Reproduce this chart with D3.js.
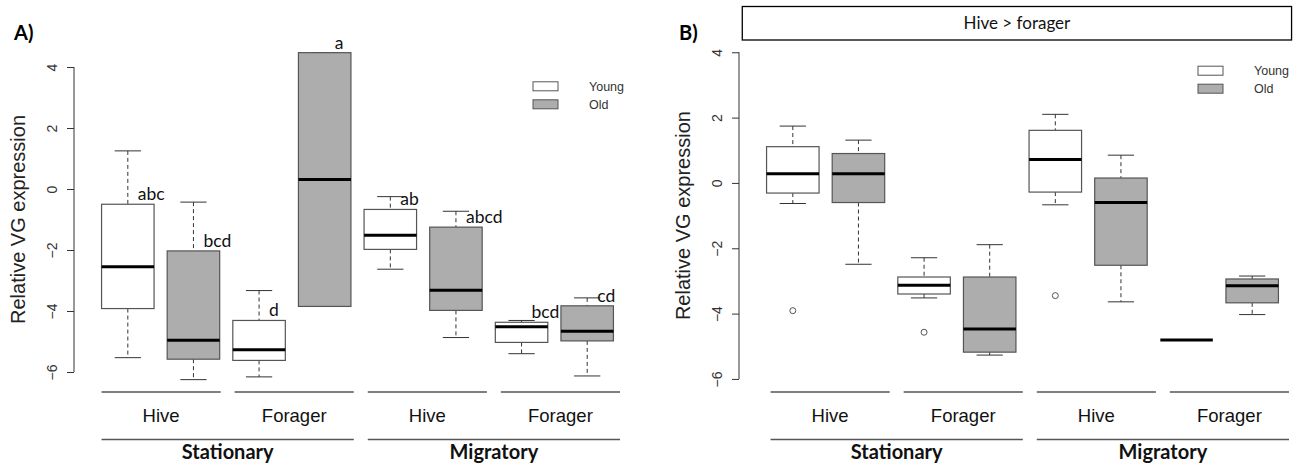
<!DOCTYPE html>
<html>
<head>
<meta charset="utf-8">
<script src="https://cdn.jsdelivr.net/npm/d3@7"></script>
<style>
  body { margin: 0; background: #fff; }
  svg { display: block; }
  .tick-label { font-family: "Liberation Sans", Arial, sans-serif; font-size: 14px; fill: #333; }
  .axis-title { font-family: "Liberation Sans", Arial, sans-serif; font-size: 20px; fill: #222; }
  .legend-text { font-family: "Liberation Sans", Arial, sans-serif; font-size: 12.5px; fill: #333; }
  .group-label { font-family: "Liberation Sans", Arial, sans-serif; font-size: 18.5px; fill: #111; }
  .cond-label { font-family: Lato, "Open Sans", sans-serif; font-size: 20px; font-weight: bold; fill: #111; }
  .letter { font-family: Lato, "Open Sans", sans-serif; font-size: 17.5px; fill: #111; }
  .panel-tag { font-family: Lato, "Open Sans", sans-serif; font-size: 20px; font-weight: bold; fill: #000; }
  .strip-text { font-family: Lato, "Open Sans", sans-serif; font-size: 17px; fill: #111; }
</style>
</head>
<body>
<svg id="chart" width="1300" height="464"></svg>
<script>
// categories
const sites = ['Hive', 'Forager', 'Hive', 'Forager'];
const conditions = ['Stationary', 'Migratory'];
const ages = ['Young', 'Old'];
const yTicks = [-6, -4, -2, 0, 2, 4];

// panel A box stats, order: St Hive Y/O, St Forager Y/O, Mig Hive Y/O, Mig Forager Y/O
const aLow = [-5.53, -6.25, -6.16, -3.85, -2.63, -4.87, -5.40, -6.13];
const aQ1 = [-3.92, -5.58, -5.62, -3.85, -1.98, -3.98, -5.03, -4.98];
const aMedian = [-2.55, -4.96, -5.27, 0.31, -1.52, -3.32, -4.52, -4.66];
const aQ3 = [-0.50, -2.03, -4.31, 4.47, -0.67, -1.25, -4.37, -3.83];
const aHigh = [1.25, -0.43, -3.33, 4.47, -0.25, -0.73, -4.31, -3.57];
const aOutliers = [[], [], [], [], [], [], [], []];
const aLetters = ['abc', 'bcd', 'd', 'a', 'ab', 'abcd', 'bcd', 'cd'];

// panel B box stats
const bLow = [-0.63, -2.49, -3.52, -5.27, -0.67, -3.64, -4.81, -4.03];
const bQ1 = [-0.31, -0.60, -3.40, -5.18, -0.28, -2.52, -4.81, -3.67];
const bMedian = [0.28, 0.28, -3.13, -4.47, 0.72, -0.60, -4.81, -3.15];
const bQ3 = [1.11, 0.90, -2.88, -2.88, 1.61, 0.15, -4.81, -2.94];
const bHigh = [1.74, 1.31, -2.29, -1.89, 2.10, 0.85, -4.81, -2.85];
const bOutliers = [[-3.91], [], [-4.57], [], [-3.45], [], [], []];
const bStrip = 'Hive > forager';

const fills = { Young: '#ffffff', Old: '#adadad' };

const svg = d3.select('#chart');

function drawPanel(cfg) {
  const n = cfg.median.length;
  const boxes = d3.range(n).map(i => ({
    pos: i + 1,
    age: ages[i % 2],
    low: cfg.low[i], q1: cfg.q1[i], median: cfg.median[i], q3: cfg.q3[i], high: cfg.high[i],
    outliers: cfg.outliers[i],
    letter: cfg.letters ? cfg.letters[i] : null
  }));

  // R-style ranges: 0.5..n+0.5 and -6..4, each padded by 4%
  const x = d3.scaleLinear().domain([0.18, n + 0.82]).range([cfg.left, cfg.left + 567]);
  const y = d3.scaleLinear().domain([-6.4, 4.4]).range([cfg.bottom, cfg.top]);
  const bw = (x(2) - x(1)) * 0.8;

  const g = svg.append('g');

  // y axis
  const yAxis = d3.axisLeft(y).tickValues(yTicks).tickSize(7).tickSizeOuter(0);
  const yAxisG = g.append('g').attr('transform', `translate(${cfg.left},0)`).call(yAxis);
  yAxisG.select('.domain').remove();
  yAxisG.selectAll('.tick line').attr('stroke', '#333');
  yAxisG.selectAll('.tick text')
      .attr('class', 'tick-label')
      .attr('x', 0).attr('y', -17.5).attr('dy', null)
      .attr('transform', 'rotate(-90)')
      .attr('text-anchor', 'middle')
      .attr('font-size', null).attr('font-family', null).attr('fill', null);
  yAxisG.attr('font-size', null).attr('font-family', null);
  g.append('line')
      .attr('x1', cfg.left).attr('x2', cfg.left)
      .attr('y1', y(d3.min(yTicks))).attr('y2', y(d3.max(yTicks)))
      .attr('stroke', '#333');

  g.append('text')
      .attr('class', 'axis-title')
      .attr('transform', `translate(${cfg.left - 49},${(cfg.top + cfg.bottom) / 2}) rotate(-90)`)
      .attr('text-anchor', 'middle')
      .text('Relative VG expression');

  // boxes
  const box = g.selectAll('.box').data(boxes).join('g').attr('class', 'box');

  box.append('line')
      .attr('x1', d => x(d.pos)).attr('x2', d => x(d.pos))
      .attr('y1', d => y(d.high)).attr('y2', d => y(d.q3))
      .attr('stroke', '#333').attr('stroke-dasharray', '4,3');
  box.append('line')
      .attr('x1', d => x(d.pos)).attr('x2', d => x(d.pos))
      .attr('y1', d => y(d.q1)).attr('y2', d => y(d.low))
      .attr('stroke', '#333').attr('stroke-dasharray', '4,3');
  box.append('line')
      .attr('x1', d => x(d.pos) - bw / 4).attr('x2', d => x(d.pos) + bw / 4)
      .attr('y1', d => y(d.high)).attr('y2', d => y(d.high))
      .attr('stroke', '#333');
  box.append('line')
      .attr('x1', d => x(d.pos) - bw / 4).attr('x2', d => x(d.pos) + bw / 4)
      .attr('y1', d => y(d.low)).attr('y2', d => y(d.low))
      .attr('stroke', '#333');
  box.filter(d => d.q3 > d.q1).append('rect')
      .attr('x', d => x(d.pos) - bw / 2)
      .attr('width', bw)
      .attr('y', d => y(d.q3))
      .attr('height', d => y(d.q1) - y(d.q3))
      .attr('fill', d => fills[d.age])
      .attr('stroke', '#555').attr('stroke-width', 1.2);
  box.append('line')
      .attr('x1', d => x(d.pos) - bw / 2).attr('x2', d => x(d.pos) + bw / 2)
      .attr('y1', d => y(d.median)).attr('y2', d => y(d.median))
      .attr('stroke', '#000').attr('stroke-width', 3);
  box.selectAll('.outlier')
      .data(d => d.outliers.map(v => ({ pos: d.pos, v })))
      .join('circle')
      .attr('class', 'outlier')
      .attr('cx', d => x(d.pos)).attr('cy', d => y(d.v))
      .attr('r', 3).attr('fill', 'none').attr('stroke', '#555');

  box.filter(d => d.letter).append('text')
      .attr('class', 'letter')
      .attr('x', d => x(d.pos) + 10)
      .attr('y', d => y(d.q3) - 4)
      .text(d => d.letter);

  // legend
  const leg = g.selectAll('.legend').data(ages).join('g')
      .attr('class', 'legend')
      .attr('transform', (d, i) => `translate(${cfg.left + 459},${cfg.top + 27 + i * 18})`);
  leg.append('rect')
      .attr('width', 25).attr('height', 9)
      .attr('fill', d => fills[d]).attr('stroke', '#555');
  leg.append('text')
      .attr('class', 'legend-text')
      .attr('x', 56).attr('y', 9)
      .text(d => d);

  // grouping lines and labels under the plot
  const siteBand = d3.scaleBand()
      .domain(d3.range(sites.length))
      .range([x(0.6) + cfg.shift, x(n + 0.5) + cfg.shift])
      .paddingInner(0.105);
  const site = g.selectAll('.site').data(sites).join('g').attr('class', 'site');
  site.append('line')
      .attr('x1', (d, i) => siteBand(i)).attr('x2', (d, i) => siteBand(i) + siteBand.bandwidth())
      .attr('y1', 392).attr('y2', 392)
      .attr('stroke', '#555').attr('stroke-width', 1.3);
  site.append('text')
      .attr('class', 'group-label')
      .attr('x', (d, i) => siteBand(i) + siteBand.bandwidth() / 2)
      .attr('y', 421.5)
      .attr('text-anchor', 'middle')
      .text(d => d);

  const cond = g.selectAll('.cond').data(conditions).join('g').attr('class', 'cond');
  cond.append('line')
      .attr('x1', (d, i) => siteBand(i * 2))
      .attr('x2', (d, i) => siteBand(i * 2 + 1) + siteBand.bandwidth())
      .attr('y1', 439.5).attr('y2', 439.5)
      .attr('stroke', '#555').attr('stroke-width', 1.3);
  cond.append('text')
      .attr('class', 'cond-label')
      .attr('x', (d, i) => (siteBand(i * 2) + siteBand(i * 2 + 1) + siteBand.bandwidth()) / 2)
      .attr('y', 459)
      .attr('text-anchor', 'middle')
      .text(d => d);

  // panel tag
  g.append('text')
      .attr('class', 'panel-tag')
      .attr('x', cfg.left - 60).attr('y', 40)
      .text(cfg.tag);

  if (cfg.strip) {
    g.append('rect')
        .attr('x', x(0.23)).attr('width', x(8.6) - x(0.23))
        .attr('y', 6.5).attr('height', 33.5)
        .attr('fill', '#fff').attr('stroke', '#000').attr('stroke-width', 1.3);
    g.append('text')
        .attr('class', 'strip-text')
        .attr('x', (x(0.23) + x(8.6)) / 2).attr('y', 29)
        .attr('text-anchor', 'middle')
        .text(cfg.strip);
  }
}

drawPanel({
  tag: 'A)', left: 74, top: 54.8, bottom: 384.2, shift: 0,
  low: aLow, q1: aQ1, median: aMedian, q3: aQ3, high: aHigh,
  outliers: aOutliers, letters: aLetters
});

drawPanel({
  tag: 'B)', left: 739, top: 39.2, bottom: 392, shift: 4, strip: bStrip,
  low: bLow, q1: bQ1, median: bMedian, q3: bQ3, high: bHigh,
  outliers: bOutliers, letters: null
});
</script>
</body>
</html>
